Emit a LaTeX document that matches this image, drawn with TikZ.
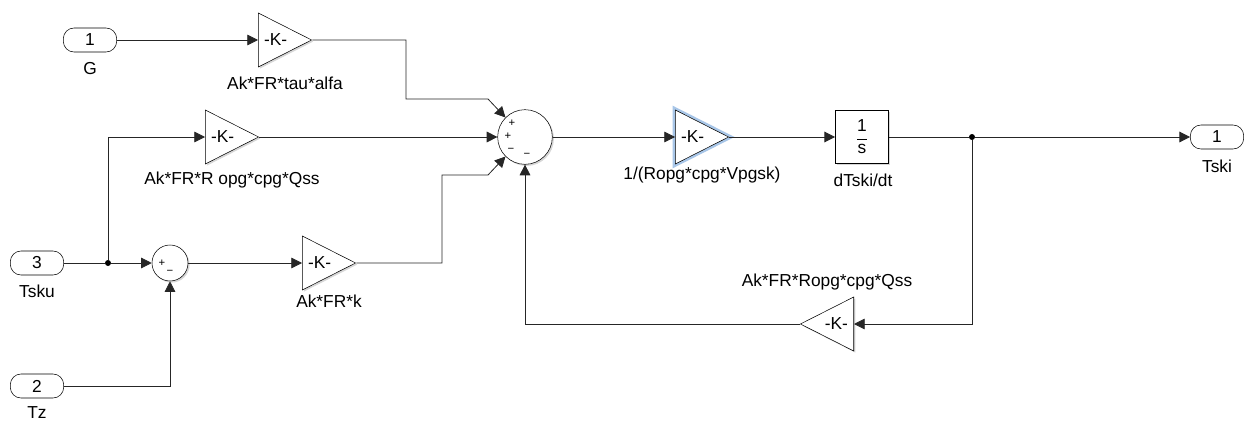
\documentclass[tikz,border=0pt]{standalone}
\usepackage{fontspec}
\setmainfont{Liberation Sans}
\usepackage{tikz}
\usetikzlibrary{positioning,arrows.meta,shapes.geometric,shadows}
\definecolor{selblue}{RGB}{168,198,232}

\begin{document}
\begin{tikzpicture}[x=0.75pt,y=-0.75pt,
  font=\fontsize{13}{15}\selectfont,
  port/.style={rectangle,rounded corners=8pt,draw,fill=white,minimum width=40pt,minimum height=18pt,inner sep=0pt},
  gain/.style={isosceles triangle,isosceles triangle stretches,draw,fill=white,minimum width=40.5pt,minimum height=40pt,inner sep=0pt,anchor=lower side},
  sumbox/.style={circle,draw,fill=white,inner sep=0pt},
  intbox/.style={rectangle,draw,fill=white,minimum size=40pt,inner sep=0pt},
  shade/.style={drop shadow={shadow xshift=1.2pt,shadow yshift=-1.2pt,fill=black!45,opacity=0.35}},
  sel/.style={preaction={draw=selblue,line width=4pt}},
  lbl/.style={inner sep=0pt,text height=9.3pt,text depth=0pt},
  sgn/.style={font=\fontsize{8.5}{8.5}\selectfont,inner sep=0pt},
  wire/.style={line width=0.6pt,draw=black!85},
  arrow/.style={wire,-{Triangle[length=8pt,width=8pt]}},
  dot/.style={circle,fill=black,inner sep=0pt,minimum size=4.5pt}]
\useasboundingbox (0,0) rectangle (1246,421);

\node[port] (g) at (90,40) {1};
\node[lbl] (glbl) at (90,68) {G};
\node[port] (tsku) at (37,263) {3};
\node[lbl] (tskulbl) at (37,291) {Tsku};
\node[port] (tz) at (37,386) {2};
\node[lbl] (tzlbl) at (37,412) {Tz};

\node[gain,shade] (k1) at (258,40) {-K-};
\node[lbl] (k1lbl) at (285,83) {Ak*FR*tau*alfa};
\node[gain,shade] (k2) at (205,137) {-K-};
\node[lbl] (k2lbl) at (232,178) {Ak*FR*R opg*cpg*Qss};
\node[sumbox,shade,minimum size=27pt] (sum2) at (170,263) {};
\node[sgn] (s2a) at (162,263) {+};
\node[sgn] (s2b) at (170,272) {−};
\node[gain,shade] (k3) at (302,263) {-K-};
\node[lbl] (k3lbl) at (329,301) {Ak*FR*k};

\node[sumbox,shade,minimum size=41pt] (sum) at (525,137) {};
\node[sgn] (sa) at (512,123) {+};
\node[sgn] (sb) at (508,136) {+};
\node[sgn] (sc) at (511,150) {−};
\node[sgn] (sd) at (527,155) {−};

\node[gain,shade,sel] (k4) at (675,137) {-K-};
\node[lbl] (k4lbl) at (702,173) {1/(Ropg*cpg*Vpgsk)};
\node[intbox,shade] (integ) at (862,137) {$\displaystyle\frac{\mbox{1}}{\mbox{s}}$};
\node[lbl] (integlbl) at (863,180) {dTski/dt};
\node[dot] (d2) at (972,137) {};
\node[port] (tski) at (1217,137) {1};
\node[lbl] (tskilbl) at (1217,166) {Tski};
\node[gain,shade,shape border rotate=180] (k5) at (854,324) {-K-};
\node[lbl] (k5lbl) at (827,280) {Ak*FR*Ropg*cpg*Qss};
\node[dot] (d1) at (108,263) {};

\draw[arrow] (g) -- (k1.lower side);
\draw[arrow] (k1.apex) -| (406,99) -- (488,99) -- (sum.135);
\draw[wire] (tsku) -- (d1);
\draw[arrow] (d1) -- (sum2.west);
\draw[arrow] (d1) |- (k2.lower side);
\draw[arrow] (k2.apex) -- (sum.west);
\draw[arrow] (tz) -| (sum2.south);
\draw[arrow] (sum2) -- (k3.lower side);
\draw[arrow] (k3.apex) -| (442,175) -- (488,175) -- (sum.225);
\draw[arrow] (sum) -- (k4.lower side);
\draw[arrow] (k4.apex) -- (integ);
\draw[wire] (integ) -- (d2);
\draw[arrow] (d2) -- (tski);
\draw[arrow] (d2) |- (k5.lower side);
\draw[arrow] (k5.apex) -| (sum.south);
\end{tikzpicture}
\end{document}
